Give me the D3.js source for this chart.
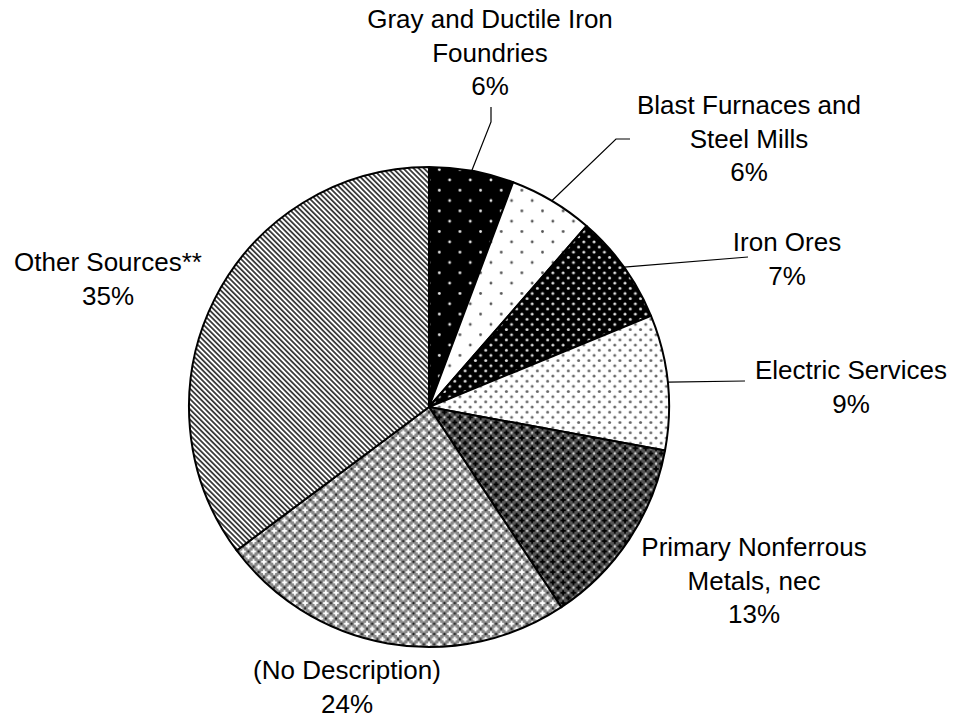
<html>
  <head>
    <title>Pie</title>
    <script src="https://cdnjs.cloudflare.com/ajax/libs/d3/7.8.5/d3.min.js"></script>
    <style type="text/css">
        * { padding: 0px; margin: 0px; }
        body { background: white; }
        text { font-family: "Liberation Sans", Arial, sans-serif; font-size: 26px; fill: black; }
    </style>
  </head>
  <body>
    <svg id="viz"></svg>
  </body>
</html>

<script language="javascript">

    // slice data, clockwise from 12 o'clock
    var categories = [
        ["Gray and Ductile Iron", "Foundries"],
        ["Blast Furnaces and", "Steel Mills"],
        ["Iron Ores"],
        ["Electric Services"],
        ["Primary Nonferrous", "Metals, nec"],
        ["(No Description)"],
        ["Other Sources**"]
    ];
    var values = [5.7, 5.7, 7.4, 9.1, 12.8, 24.1, 35.2];

    var w = 954, h = 719;
    var cx = 429, cy = 407, r = 240;
    var lineH = 33.5;

    // label centre (first line) and leader elbow, per slice
    var labelPos = [
        { x: 490, y: 19, elbow: [[491, 107], [491, 122]] },
        { x: 749, y: 105, elbow: [[630, 139], [616, 139]] },
        { x: 787, y: 242, elbow: [[748, 257]] },
        { x: 851, y: 370, elbow: [[745, 381]] },
        { x: 754, y: 547, elbow: null },
        { x: 347, y: 670, elbow: null },
        { x: 108, y: 262, elbow: null }
    ];

    var viz = d3.select("#viz")
        .attr("width", w)
        .attr("height", h);

    var defs = viz.append("defs");
    var s = 10.32; // pattern cell

    // sparse dots: dark bg + light dots, and the reverse
    function dotPattern(id, size, bg, dot, rad) {
        var p = defs.append("pattern")
            .attr("id", id)
            .attr("patternUnits", "userSpaceOnUse")
            .attr("width", size).attr("height", size);
        p.append("rect").attr("width", size).attr("height", size).attr("fill", bg);
        [[0, 0], [size, 0], [0, size], [size, size], [size / 2, size / 2]].forEach(function (d) {
            p.append("circle").attr("cx", d[0]).attr("cy", d[1]).attr("r", rad).attr("fill", dot);
        });
    }
    dotPattern("p0", 2 * s, "black", "#e8e8e8", 1.4);
    dotPattern("p1", 2 * s, "white", "#555", 1.4);
    dotPattern("p2", s, "black", "#e0e0e0", 1.5);
    dotPattern("p3", s, "white", "#666", 1.5);

    // crossed grids
    function gridPattern(id, bg, cross, dot) {
        var p = defs.append("pattern")
            .attr("id", id)
            .attr("patternUnits", "userSpaceOnUse")
            .attr("width", s).attr("height", s);
        p.append("rect").attr("width", s).attr("height", s).attr("fill", bg);
        [[0, 0], [s, 0], [0, s], [s, s], [s / 2, s / 2]].forEach(function (d) {
            p.append("rect").attr("x", d[0] - 2.6).attr("y", d[1] - 0.9).attr("width", 5.2).attr("height", 1.8).attr("fill", cross);
            p.append("rect").attr("x", d[0] - 0.9).attr("y", d[1] - 2.6).attr("width", 1.8).attr("height", 5.2).attr("fill", cross);
        });
        [[s / 2, 0], [0, s / 2], [s, s / 2], [s / 2, s]].forEach(function (d) {
            p.append("circle").attr("cx", d[0]).attr("cy", d[1]).attr("r", 1.1).attr("fill", dot);
        });
    }
    gridPattern("p4", "#555", "black", "#d8d8d8");
    gridPattern("p5", "#8a8a8a", "white", "#222");

    // downward diagonal stripes
    var st = defs.append("pattern")
        .attr("id", "p6")
        .attr("patternUnits", "userSpaceOnUse")
        .attr("width", 3.65).attr("height", 10)
        .attr("patternTransform", "rotate(-45)");
    st.append("rect").attr("width", 3.65).attr("height", 10).attr("fill", "white");
    st.append("rect").attr("width", 1.8).attr("height", 10).attr("fill", "#3a3a3a");

    var pie = d3.pie().sort(null).value((d) => d);
    var arcs = pie(values);

    var arcGen = d3.arc().innerRadius(0).outerRadius(r);
    var edgeGen = d3.arc().innerRadius(r).outerRadius(r);

    var g = viz.append("g").attr("transform", "translate(" + cx + "," + cy + ")");

    g.selectAll("path.slice")
        .data(arcs)
        .enter().append("path")
        .attr("class", "slice")
        .attr("d", arcGen)
        .attr("fill", (d, i) => "url(#p" + i + ")")
        .attr("stroke", "black")
        .attr("stroke-width", 2)
        .attr("stroke-linejoin", "round");

    // leader lines
    for (var i = 0; i < arcs.length; i++) {
        var lp = labelPos[i];
        if (!lp.elbow) continue;
        var e = edgeGen.centroid(arcs[i]);
        var pts = lp.elbow.slice();
        pts.push([cx + e[0], cy + e[1]]);
        viz.append("path")
            .attr("d", d3.line()(pts))
            .attr("fill", "none")
            .attr("stroke", "black")
            .attr("stroke-width", 1.2);
    }

    // labels
    for (var i = 0; i < arcs.length; i++) {
        var lines = categories[i].concat([Math.round(values[i]) + "%"]);
        var t = viz.append("text")
            .attr("text-anchor", "middle");
        lines.forEach(function (ln, k) {
            t.append("tspan")
                .attr("x", labelPos[i].x)
                .attr("y", labelPos[i].y + k * lineH)
                .attr("dy", "0.35em")
                .text(ln);
        });
    }
</script>
